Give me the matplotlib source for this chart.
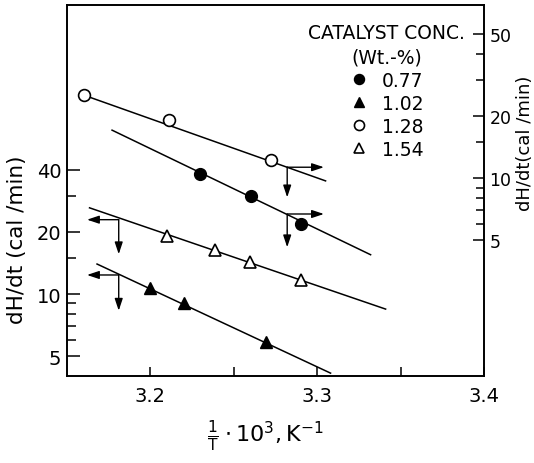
import matplotlib
matplotlib.use('Agg')
import matplotlib.pyplot as plt
from matplotlib.ticker import FixedLocator, FixedFormatter, NullFormatter

plt.rcParams['font.family'] = 'DejaVu Sans'
plt.rcParams['font.size'] = 13

# left-axis value / right-axis value at the same height
SCALE = 3.65

# 0.77 wt-% : filled circles, read on right axis
x_077 = [3.230, 3.2605, 3.290]
y_077 = [10.5, 8.2, 6.0]
fit_077_x = [3.177, 3.332]
fit_077_y = [17.1, 4.25]

# 1.02 wt-% : filled triangles, left axis
x_102 = [3.200, 3.220, 3.2695]
y_102 = [10.7, 9.04, 5.85]
fit_102_x = [3.168, 3.308]
fit_102_y = [13.98, 4.13]

# 1.28 wt-% : open circles, right axis
x_128 = [3.160, 3.211, 3.272]
y_128 = [25.3, 19.2, 12.3]
fit_128_x = [3.160, 3.305]
fit_128_y = [25.3, 9.7]

# 1.54 wt-% : open triangles, left axis
x_154 = [3.210, 3.239, 3.260, 3.290]
y_154 = [19.1, 16.4, 14.3, 11.7]
fit_154_x = [3.1635, 3.341]
fit_154_y = [26.2, 8.45]

# reading arrows: corner x, corner y, horizontal tip x, vertical tip y
arrows_right = [(3.282, 11.3, 3.304, 8.07), (3.282, 6.7, 3.304, 4.62)]
arrows_left = [(3.181, 22.95, 3.162, 15.6), (3.181, 12.37, 3.162, 8.3)]

left_major = [5, 10, 20, 40]
left_minor = [6, 7, 8, 9, 15, 30]
right_major = [5, 10, 20, 50]
right_minor = [6, 7, 8, 9, 15, 30, 40]

fig = plt.figure(figsize=(5.34, 4.64), dpi=100)
ax = fig.add_axes([0.1255, 0.1875, 0.7809, 0.8005])
ax2 = ax.twinx()

ax.set_xlim(3.15, 3.4)
ax.set_yscale('log')
ax.set_ylim(4.0, 254)
ax2.set_yscale('log')
ax2.set_ylim(4.0 / SCALE, 254 / SCALE)

lw = 1.1
ax.plot(fit_102_x, fit_102_y, 'k-', lw=lw)
ax.plot(fit_154_x, fit_154_y, 'k-', lw=lw)
ax2.plot(fit_077_x, fit_077_y, 'k-', lw=lw)
ax2.plot(fit_128_x, fit_128_y, 'k-', lw=lw)

h102, = ax.plot(x_102, y_102, '^', ls='none', ms=9, color='k', zorder=5)
h154, = ax.plot(x_154, y_154, '^', ls='none', ms=9, mfc='white', mec='k', mew=1.2, zorder=5)
h077, = ax2.plot(x_077, y_077, 'o', ls='none', ms=8.5, color='k', zorder=5)
h128, = ax2.plot(x_128, y_128, 'o', ls='none', ms=8.5, mfc='white', mec='k', mew=1.2, zorder=5)

aprops = dict(arrowstyle='-|>,head_length=0.6,head_width=0.2', color='k', lw=1.0,
              shrinkA=0, shrinkB=0, mutation_scale=12)
for cx, cy, tx, ty in arrows_right:
    ax2.annotate('', xy=(tx, cy), xytext=(cx, cy), arrowprops=aprops)
    ax2.annotate('', xy=(cx, ty), xytext=(cx, cy), arrowprops=aprops)
for cx, cy, tx, ty in arrows_left:
    ax.annotate('', xy=(tx, cy), xytext=(cx, cy), arrowprops=aprops)
    ax.annotate('', xy=(cx, ty), xytext=(cx, cy), arrowprops=aprops)

# ticks
ax.xaxis.set_major_locator(FixedLocator([3.2, 3.3, 3.4]))
ax.xaxis.set_minor_locator(FixedLocator([3.25, 3.35]))
ax.xaxis.set_major_formatter(FixedFormatter(['3.2', '3.3', '3.4']))
ax.yaxis.set_major_locator(FixedLocator(left_major))
ax.yaxis.set_major_formatter(FixedFormatter([str(v) for v in left_major]))
ax.yaxis.set_minor_locator(FixedLocator(left_minor))
ax.yaxis.set_minor_formatter(NullFormatter())
ax2.yaxis.set_major_locator(FixedLocator(right_major))
ax2.yaxis.set_major_formatter(FixedFormatter([str(v) for v in right_major]))
ax2.yaxis.set_minor_locator(FixedLocator(right_minor))
ax2.yaxis.set_minor_formatter(NullFormatter())

ax.tick_params(axis='x', which='both', direction='in', length=6.5, width=1.1, pad=7, labelsize=14)
ax.tick_params(axis='y', which='major', direction='in', length=9, width=1.1, pad=4, labelsize=14)
ax.tick_params(axis='y', which='minor', direction='in', length=6.5, width=1.1)
ax2.tick_params(axis='y', which='major', direction='in', length=8, width=1.1, pad=4, labelsize=12.5)
ax2.tick_params(axis='y', which='minor', direction='in', length=6, width=1.1)

for a in (ax, ax2):
    for s in a.spines.values():
        s.set_linewidth(1.2)

ax.set_ylabel('dH/dt (cal /min)', fontsize=15.5)
ax.yaxis.set_label_coords(-0.097, 0.37)
ax2.set_ylabel('dH/dt(cal /min)', fontsize=13, rotation=90)
ax2.yaxis.set_label_coords(1.076, 0.63)
ax.set_xlabel(r'$\mathregular{\frac{1}{T}\cdot10^{3},K^{-1}}$', fontsize=16)
ax.xaxis.set_label_coords(0.475, -0.11)

leg = ax2.legend([h077, h102, h128, h154], ['0.77', '1.02', '1.28', '1.54'],
                 title='CATALYST CONC.\n(Wt.-%)', loc='upper right',
                 bbox_to_anchor=(0.977, 0.975), frameon=False, fontsize=13.5,
                 title_fontsize=13.5, alignment='center', borderpad=0,
                 labelspacing=0.22, handlelength=1.0, handletextpad=0.7,
                 markerscale=0.85)
leg.get_title().set_multialignment('center')
leg.get_title().set_linespacing(1.35)

fig.savefig('out.png', dpi=100)
